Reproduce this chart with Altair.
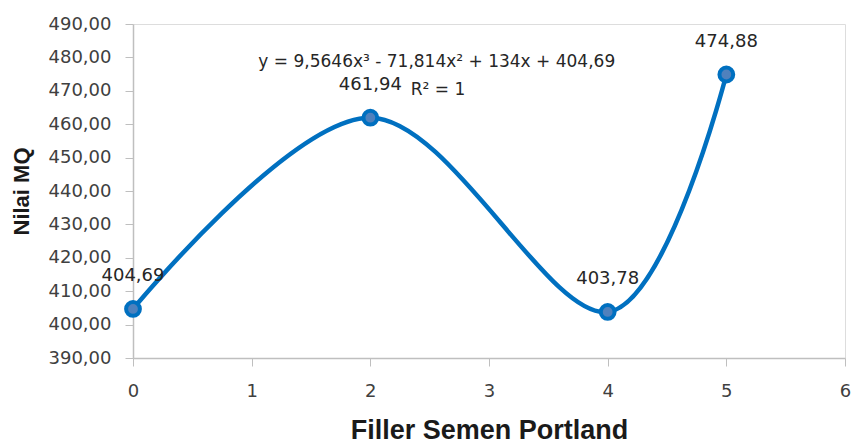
import altair as alt
import pandas as pd

x_vals = [0, 2, 4, 5]
y_vals = [404.69, 461.94, 403.78, 474.88]
point_labels = ["404,69", "461,94", "403,78", "474,88"]

x_ticks = [0, 1, 2, 3, 4, 5, 6]
y_ticks = [390, 400, 410, 420, 430, 440, 450, 460, 470, 480, 490]

ann_text = ["y = 9,5646x³ - 71,814x² + 134x + 404,69", "R² = 1"]
ann_x = [2.56, 2.57]
ann_y = [478.6, 470.2]

df = pd.DataFrame({"x": x_vals, "y": y_vals, "label": point_labels})
ann = pd.DataFrame({"x": ann_x, "y": ann_y, "label": ann_text})

FONT = "DejaVu Sans"
LINE = "#0070C0"

xs = alt.Scale(domain=[0, 6], nice=False)
ys = alt.Scale(domain=[390, 490], nice=False, zero=False)

x_enc = alt.X("x:Q", scale=xs, axis=alt.Axis(
    values=x_ticks, format="d", title="Filler Semen Portland", grid=False,
    labelFont=FONT, labelFontSize=18, labelColor="#404040", labelPadding=16,
    tickSize=8, tickColor="#BFBFBF", domainColor="#BFBFBF", domainWidth=1.5,
    titleFont="Liberation Sans", titleFontSize=27, titleFontWeight="bold",
    titleColor="#1a1a1a", titlePadding=17, labelFlush=False, labelOverlap=False))
y_enc = alt.Y("y:Q", scale=ys, axis=alt.Axis(
    values=y_ticks, title="Nilai MQ", grid=False,
    labelExpr="replace(format(datum.value, '.2f'), '.', ',')",
    labelFont=FONT, labelFontSize=18, labelColor="#404040", labelPadding=14,
    tickSize=8, tickColor="#BFBFBF", domainColor="#BFBFBF", domainWidth=1.5,
    titleFont="Liberation Sans", titleFontSize=22, titleFontWeight="bold",
    titleColor="#1a1a1a", titlePadding=15, labelFlush=False, labelOverlap=False))

line = alt.Chart(df).mark_line(interpolate="cardinal", color=LINE, strokeWidth=4.5).encode(x=x_enc, y=y_enc)
pts = alt.Chart(df).mark_point(filled=True, shape="circle", size=190, fill="#4F81BD",
                               stroke=LINE, strokeWidth=4, opacity=1).encode(x=x_enc, y=y_enc)
labels = alt.Chart(df).mark_text(dy=-33, font=FONT, fontSize=18, color="#262626").encode(
    x=x_enc, y=y_enc, text="label:N")
eq = alt.Chart(ann).mark_text(font=FONT, fontSize=17, color="#262626").encode(
    x=x_enc, y=y_enc, text="label:N")

chart = alt.layer(line, pts, labels, eq).properties(
    width=712, height=334,
    padding={"left": 125, "top": 16, "right": 6, "bottom": 85},
    autosize=alt.AutoSizeParams(type="none"),
).configure_view(stroke=None).configure(background="white")

chart.save("out.html", embed_options={"renderer": "svg", "actions": False})
